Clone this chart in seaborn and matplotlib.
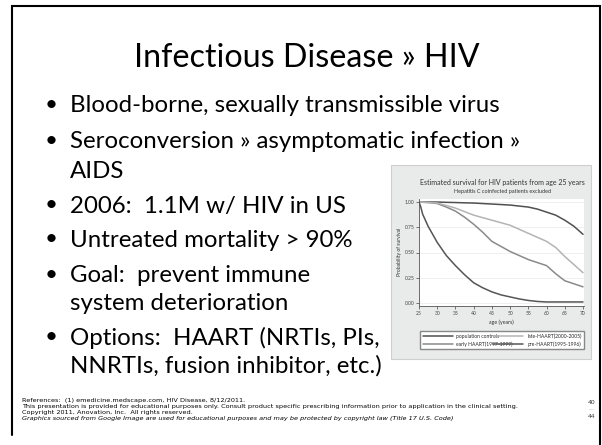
import matplotlib
matplotlib.use('Agg')
import matplotlib.pyplot as plt
import seaborn as sns
import pandas as pd
from matplotlib.patches import Rectangle

# slide text
slide_title = 'Infectious Disease \u00bb HIV'
bullets = [
    ['Blood-borne, sexually transmissible virus'],
    ['Seroconversion \u00bb asymptomatic infection \u00bb', 'AIDS'],
    ['2006:  1.1M w/ HIV in US'],
    ['Untreated mortality > 90%'],
    ['Goal:  prevent immune', 'system deterioration'],
    ['Options:  HAART (NRTIs, PIs,', 'NNRTIs, fusion inhibitor, etc.)'],
]
footer_lines = [
    'References:  (1) emedicine.medscape.com, HIV Disease, 8/12/2011.',
    'This presentation is provided for educational purposes only. Consult product specific prescribing information prior to application in the clinical setting.',
    'Copyright 2011, Anovation, Inc.  All rights reserved.',
    'Graphics sourced from Google Image are used for educational purposes and may be protected by copyright law (Title 17 U.S. Code)',
]
page_num = '40'
page_total = '44'

# inset survival chart
chart_title = 'Estimated survival for HIV patients from age 25 years'
chart_subtitle = 'Hepatitis C coinfected patients excluded'
x_ticks = [25, 30, 35, 40, 45, 50, 55, 60, 65, 70]
y_ticks = [0.00, 0.25, 0.50, 0.75, 1.00]

ages = [25, 27.5, 30, 32.5, 35, 37.5, 40, 42.5, 45, 47.5, 50, 52.5, 55, 57.5, 60, 62.5, 65, 67.5, 70]
pop_controls = [1.00, 1.00, 1.00, 0.997, 0.995, 0.992, 0.99, 0.985, 0.98, 0.975, 0.97, 0.96, 0.95, 0.93, 0.90, 0.87, 0.82, 0.76, 0.68]
late_haart = [1.00, 0.995, 0.99, 0.965, 0.94, 0.905, 0.87, 0.845, 0.82, 0.795, 0.77, 0.73, 0.69, 0.65, 0.61, 0.55, 0.46, 0.38, 0.30]
early_haart = [1.00, 0.995, 0.985, 0.95, 0.91, 0.85, 0.78, 0.70, 0.61, 0.56, 0.51, 0.47, 0.43, 0.40, 0.37, 0.29, 0.22, 0.19, 0.16]
pre_ages = [25, 25.5, 26, 27.5, 30, 32.5, 35, 37.5, 40, 42.5, 45, 47.5, 50, 52.5, 55, 57.5, 60, 65, 70]
pre_haart = [1.00, 0.95, 0.88, 0.76, 0.60, 0.47, 0.37, 0.28, 0.20, 0.15, 0.11, 0.08, 0.06, 0.04, 0.025, 0.015, 0.01, 0.01, 0.01]

series_names = ['population controls', 'early HAART(1997-1999)', 'late-HAART(2000-2005)', 'pre-HAART(1995-1996)']
series_colors = ['#505050', '#8a8a8a', '#b4b4b4', '#555555']

frames = [
    pd.DataFrame({'age': ages, 'survival': pop_controls, 'group': series_names[0]}),
    pd.DataFrame({'age': ages, 'survival': early_haart, 'group': series_names[1]}),
    pd.DataFrame({'age': ages, 'survival': late_haart, 'group': series_names[2]}),
    pd.DataFrame({'age': pre_ages, 'survival': pre_haart, 'group': series_names[3]}),
]
surv = pd.concat(frames, ignore_index=True)

sns.set_theme(style='white')
plt.rcParams['font.family'] = ['Lato', 'DejaVu Sans']

W, H = 602, 445
fig = plt.figure(figsize=(W / 100, H / 100), dpi=100)
renderer = fig.canvas.get_renderer()


def fit(texts, ref, width):
    # scale a group of texts so that `ref` spans `width` pixels
    scale = width / ref.get_window_extent(renderer).width
    for t in texts:
        t.set_fontsize(t.get_fontsize() * scale)


# slide canvas in pixel coordinates
bg = fig.add_axes([0, 0, 1, 1])
bg.set_xlim(0, W)
bg.set_ylim(H, 0)
bg.axis('off')

bg.plot([12, 12, 600, 600], [435, 5.5, 5.5, H], color='black', lw=1.5, solid_joinstyle='miter')

title = bg.text(307, 67, slide_title, fontsize=20, ha='center', va='baseline', color='black')
fit([title], title, 345)

baselines = [[112], [148, 178], [213], [247], [282, 310], [345, 373]]
body = []
for lines, ys in zip(bullets, baselines):
    bg.text(51, ys[0] - 7.5, '\u2022', fontsize=16, ha='center', va='center', color='black')
    for line, y in zip(lines, ys):
        body.append(bg.text(70, y, line, fontsize=17, ha='left', va='baseline', color='black'))
fit(body, body[4], 282)

# tiny footer: a wider face keeps the line length without taller glyphs
footer_y = [400.5, 406.8, 412.3, 418.3]
foot = []
for i, (line, y) in enumerate(zip(footer_lines, footer_y)):
    foot.append(bg.text(22, y, line, fontsize=4.5, ha='left', va='center', color='black',
                        family='DejaVu Sans', style='italic' if i == 3 else 'normal'))
fit(foot, foot[1], 492)
bg.text(592, 403, page_num, fontsize=4.6, ha='center', va='center', color='#333333')
bg.text(592, 410, '----', fontsize=3, ha='center', va='center', color='#888888')
bg.text(592, 417, page_total, fontsize=4.6, ha='center', va='center', color='#333333')

# inset graphic background
bg.add_patch(Rectangle((391, 165), 200, 194, facecolor='#e9eaea', edgecolor='#cfcfcf', lw=0.8))
ct = bg.text(502.5, 182, chart_title, fontsize=5, ha='center', va='center', color='#333333')
fit([ct], ct, 165)
bg.text(502.5, 192, chart_subtitle, fontsize=4, ha='center', va='center', color='#333333')
bg.text(501, 322, 'age (years)', fontsize=3.8, ha='center', va='center', color='#333333')
bg.text(400, 252, 'Probability of survival', fontsize=3.6, ha='center', va='center',
        rotation=90, color='#333333')

ax = fig.add_axes([419 / W, (H - 306) / H, 165 / W, 107 / H])
ax.set_facecolor('white')
sns.lineplot(data=surv, x='age', y='survival', hue='group', hue_order=series_names,
             palette=series_colors, linewidth=1.1, ax=ax, legend=True, sort=False)
ax.set_xlim(25, 70.27)
ax.set_ylim(-0.03, 1.03)
ax.set_xticks(x_ticks)
ax.set_yticks(y_ticks)
ax.set_xticklabels([str(t) for t in x_ticks])
ax.set_yticklabels(['%.2f' % t for t in y_ticks])
ax.set_xlabel('')
ax.set_ylabel('')
ax.tick_params(axis='both', labelsize=3.6, length=2, width=0.5, pad=1.5, colors='#444444',
               direction='out')
ax.tick_params(left=True, bottom=True)
ax.grid(axis='y', color='#eeeeee', lw=0.6)
for side in ['top', 'right']:
    ax.spines[side].set_visible(False)
for side in ['left', 'bottom']:
    ax.spines[side].set_color('#555555')
    ax.spines[side].set_linewidth(0.6)

ax.legend(loc='center', ncol=2, mode='expand', fontsize=3.6, frameon=True,
          fancybox=False, edgecolor='#888888', framealpha=1, handlelength=6,
          borderaxespad=0, borderpad=0.5, labelspacing=0.5, columnspacing=1.0,
          bbox_to_anchor=(420 / W, (H - 350) / H, 164 / W, 20 / H),
          bbox_transform=fig.transFigure)

fig.savefig('out.png', dpi=100)
